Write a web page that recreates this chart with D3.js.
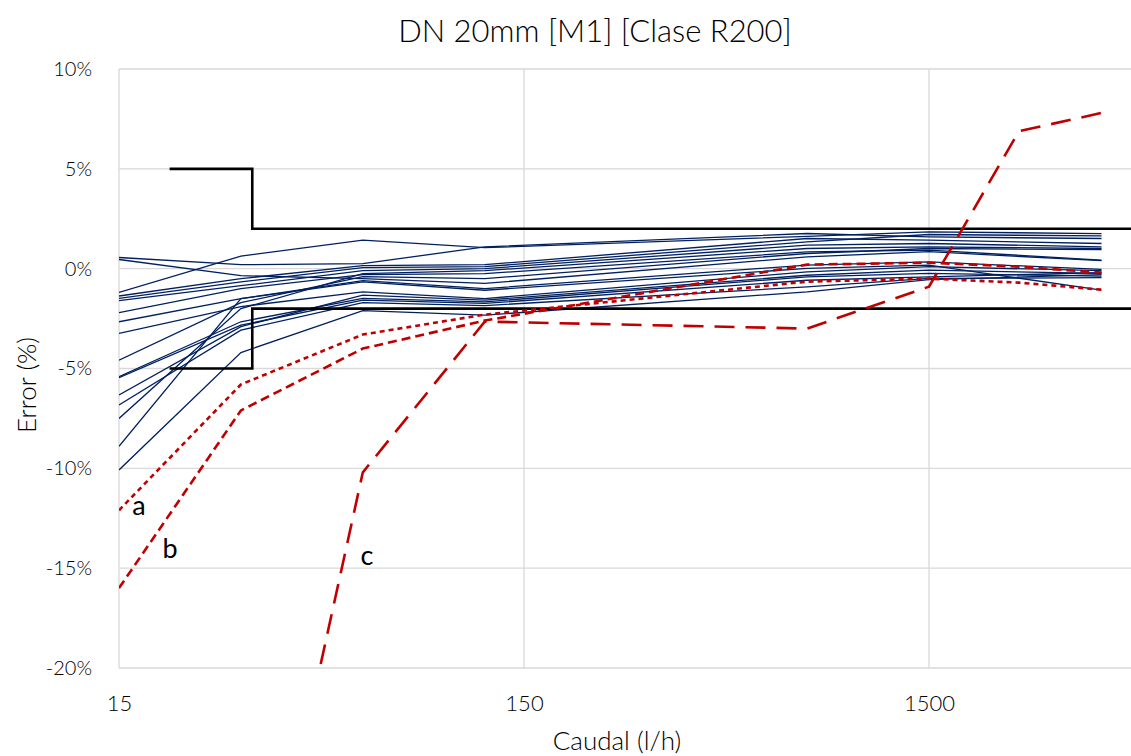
<!DOCTYPE html>
<html>
<head>
<meta charset="utf-8">
<script src="https://cdn.jsdelivr.net/npm/d3@7"></script>
<style>
  body { margin: 0; background: #ffffff; }
  svg { display: block; font-family: Lato, "Open Sans", sans-serif; }
</style>
</head>
<body>
<svg id="chart" width="1131" height="756"></svg>
<script>
// Flow rates (l/h) for each test point
const flowBlue = [15, 30, 60, 120, 750, 1500, 4000];
const flowRed = [15, 30, 60, 120, 750, 1500, 2500, 4000];
const flowC = [30, 60, 120, 750, 1500, 2500, 4000];

// Error (%) of the meters that pass
const meterErrors = [
  [0.56, 0.2, 0.25, 1.09, 1.76, 1.59, 1.51],
  [0.46, -0.35, -0.5, -0.74, 0.59, 0.85, 0.4],
  [-1.19, 0.63, 1.43, 1.05, 1.62, 1.84, 1.76],
  [-1.37, -0.5, 0.15, 0.2, 1.51, 1.43, 1.26],
  [-1.49, -0.66, 0.05, 0.1, 1.34, 1.71, 1.64],
  [-1.6, -0.85, -0.1, 0.0, 1.18, 1.26, 1.09],
  [-2.2, -1.0, -0.3, -0.25, 0.84, 0.93, 0.43],
  [-2.66, -1.5, -0.6, -1.0, 0.18, 0.34, -0.04],
  [-3.24, -1.9, -1.16, -1.5, -0.16, 0.1, -0.1],
  [-4.58, -1.7, -0.4, -0.5, 0.76, 1.01, 0.95],
  [-5.41, -2.66, -1.49, -1.66, -0.41, -0.24, -0.37],
  [-5.46, -2.83, -1.58, -1.74, -0.58, -0.41, -0.2],
  [-6.33, -2.9, -1.33, -1.58, -0.33, -0.07, -0.24],
  [-6.83, -3.08, -1.7, -1.85, -0.91, -0.49, -0.45],
  [-7.5, -2.0, -0.25, -0.1, 1.01, 1.09, 1.01],
  [-8.9, -1.5, -0.66, -1.08, 0.01, 0.18, -1.08],
  [-10.08, -4.2, -2.1, -2.33, -1.16, -0.55, -0.3]
];

// Error (%) of the failing meters a, b, c
const errorA = [-12.1, -5.8, -3.3, -2.3, -0.65, -0.5, -0.7, -1.05];
const errorB = [-16.0, -7.1, -4.0, -2.6, 0.2, 0.3, 0.1, -0.2];
const errorC = [-38, -10.2, -2.65, -3.0, -0.9, 6.88, 7.8];

// Maximum permissible error envelope
const limitFlow = [20, 32, 32, 5000];
const upperLimit = [5, 5, 2, 2];
const lowerLimit = [-5, -5, -2, -2];

const yTicks = [10, 5, 0, -5, -10, -15, -20];
const xTicks = [15, 150, 1500];

const margin = { top: 69, left: 119 };
const plotHeight = 599;
const decade = 405;

const svg = d3.select("#chart");

const x = d3.scaleLog().domain([15, 15000]).range([0, decade * 3]);
const y = d3.scaleLinear().domain([-20, 10]).range([plotHeight, 0]);

// Title
svg.append("text")
  .attr("x", 595)
  .attr("y", 42)
  .attr("text-anchor", "middle")
  .style("font-size", "31px")
  .style("font-weight", 300)
  .style("fill", "#000")
  .text("DN 20mm [M1] [Clase R200]");

const g = svg.append("g")
  .attr("transform", `translate(${margin.left},${margin.top})`);

// Gridlines
g.selectAll("line.hgrid")
  .data(yTicks)
  .join("line")
  .attr("class", "hgrid")
  .attr("x1", 0).attr("x2", decade * 3)
  .attr("y1", d => y(d)).attr("y2", d => y(d))
  .attr("stroke", "#d9d9d9")
  .attr("stroke-width", 1.3);

g.selectAll("line.vgrid")
  .data(xTicks)
  .join("line")
  .attr("class", "vgrid")
  .attr("x1", d => x(d)).attr("x2", d => x(d))
  .attr("y1", 0).attr("y2", plotHeight)
  .attr("stroke", "#d9d9d9")
  .attr("stroke-width", 1.3);

// Y axis labels
const yAxis = g.append("g")
  .call(d3.axisLeft(y).tickValues(yTicks).tickSize(0).tickPadding(27).tickFormat(d => d + "%"));
yAxis.select(".domain").remove();
yAxis.selectAll("text")
  .style("font-size", "20px")
  .style("font-weight", 300)
  .style("font-family", "Lato, 'Open Sans', sans-serif")
  .style("fill", "#000");

// X axis labels
const xAxis = g.append("g")
  .attr("transform", `translate(0,${plotHeight})`)
  .call(d3.axisBottom(x).tickValues(xTicks).tickSize(0).tickPadding(27).tickFormat(d3.format("d")));
xAxis.select(".domain").remove();
xAxis.selectAll("text")
  .style("font-size", "22px")
  .style("font-weight", 300)
  .style("font-family", "Lato, 'Open Sans', sans-serif")
  .style("fill", "#000");

// Axis titles
svg.append("text")
  .attr("x", 617)
  .attr("y", 750)
  .attr("text-anchor", "middle")
  .style("font-size", "26px")
  .style("font-weight", 300)
  .style("fill", "#000")
  .text("Caudal (l/h)");

svg.append("text")
  .attr("transform", "translate(36,385) rotate(-90)")
  .attr("text-anchor", "middle")
  .style("font-size", "26px")
  .style("font-weight", 300)
  .style("fill", "#000")
  .text("Error (%)");

// Clip lines to the plot area
svg.append("defs").append("clipPath")
  .attr("id", "plotClip")
  .append("rect")
  .attr("x", 0).attr("y", 0)
  .attr("width", decade * 3).attr("height", plotHeight);

const plot = g.append("g").attr("clip-path", "url(#plotClip)");

const line = d3.line()
  .x(d => x(d[0]))
  .y(d => y(d[1]));

// Passing meters
meterErrors.forEach(errs => {
  plot.append("path")
    .datum(d3.zip(flowBlue, errs))
    .attr("fill", "none")
    .attr("stroke", "#002060")
    .attr("stroke-width", 1.3)
    .attr("d", line);
});

// Limit envelope
[upperLimit, lowerLimit].forEach(lim => {
  plot.append("path")
    .datum(d3.zip(limitFlow, lim))
    .attr("fill", "none")
    .attr("stroke", "#000")
    .attr("stroke-width", 2.6)
    .attr("d", line);
});

// Failing meters
const redSeries = [
  { flow: flowRed, err: errorA, dash: "5,4" },
  { flow: flowRed, err: errorB, dash: "9,5" },
  { flow: flowC, err: errorC, dash: "20,11" }
];
redSeries.forEach(s => {
  plot.append("path")
    .datum(d3.zip(s.flow, s.err))
    .attr("fill", "none")
    .attr("stroke", "#c00000")
    .attr("stroke-width", 2.6)
    .attr("stroke-dasharray", s.dash)
    .attr("d", line);
});

// Series letters
const letters = [
  { t: "a", x: 139, y: 515 },
  { t: "b", x: 170, y: 558 },
  { t: "c", x: 367, y: 565 }
];
svg.selectAll("text.letter")
  .data(letters)
  .join("text")
  .attr("class", "letter")
  .attr("x", d => d.x)
  .attr("y", d => d.y)
  .attr("text-anchor", "middle")
  .style("font-size", "27px")
  .style("fill", "#000")
  .text(d => d.t);
</script>
</body>
</html>
